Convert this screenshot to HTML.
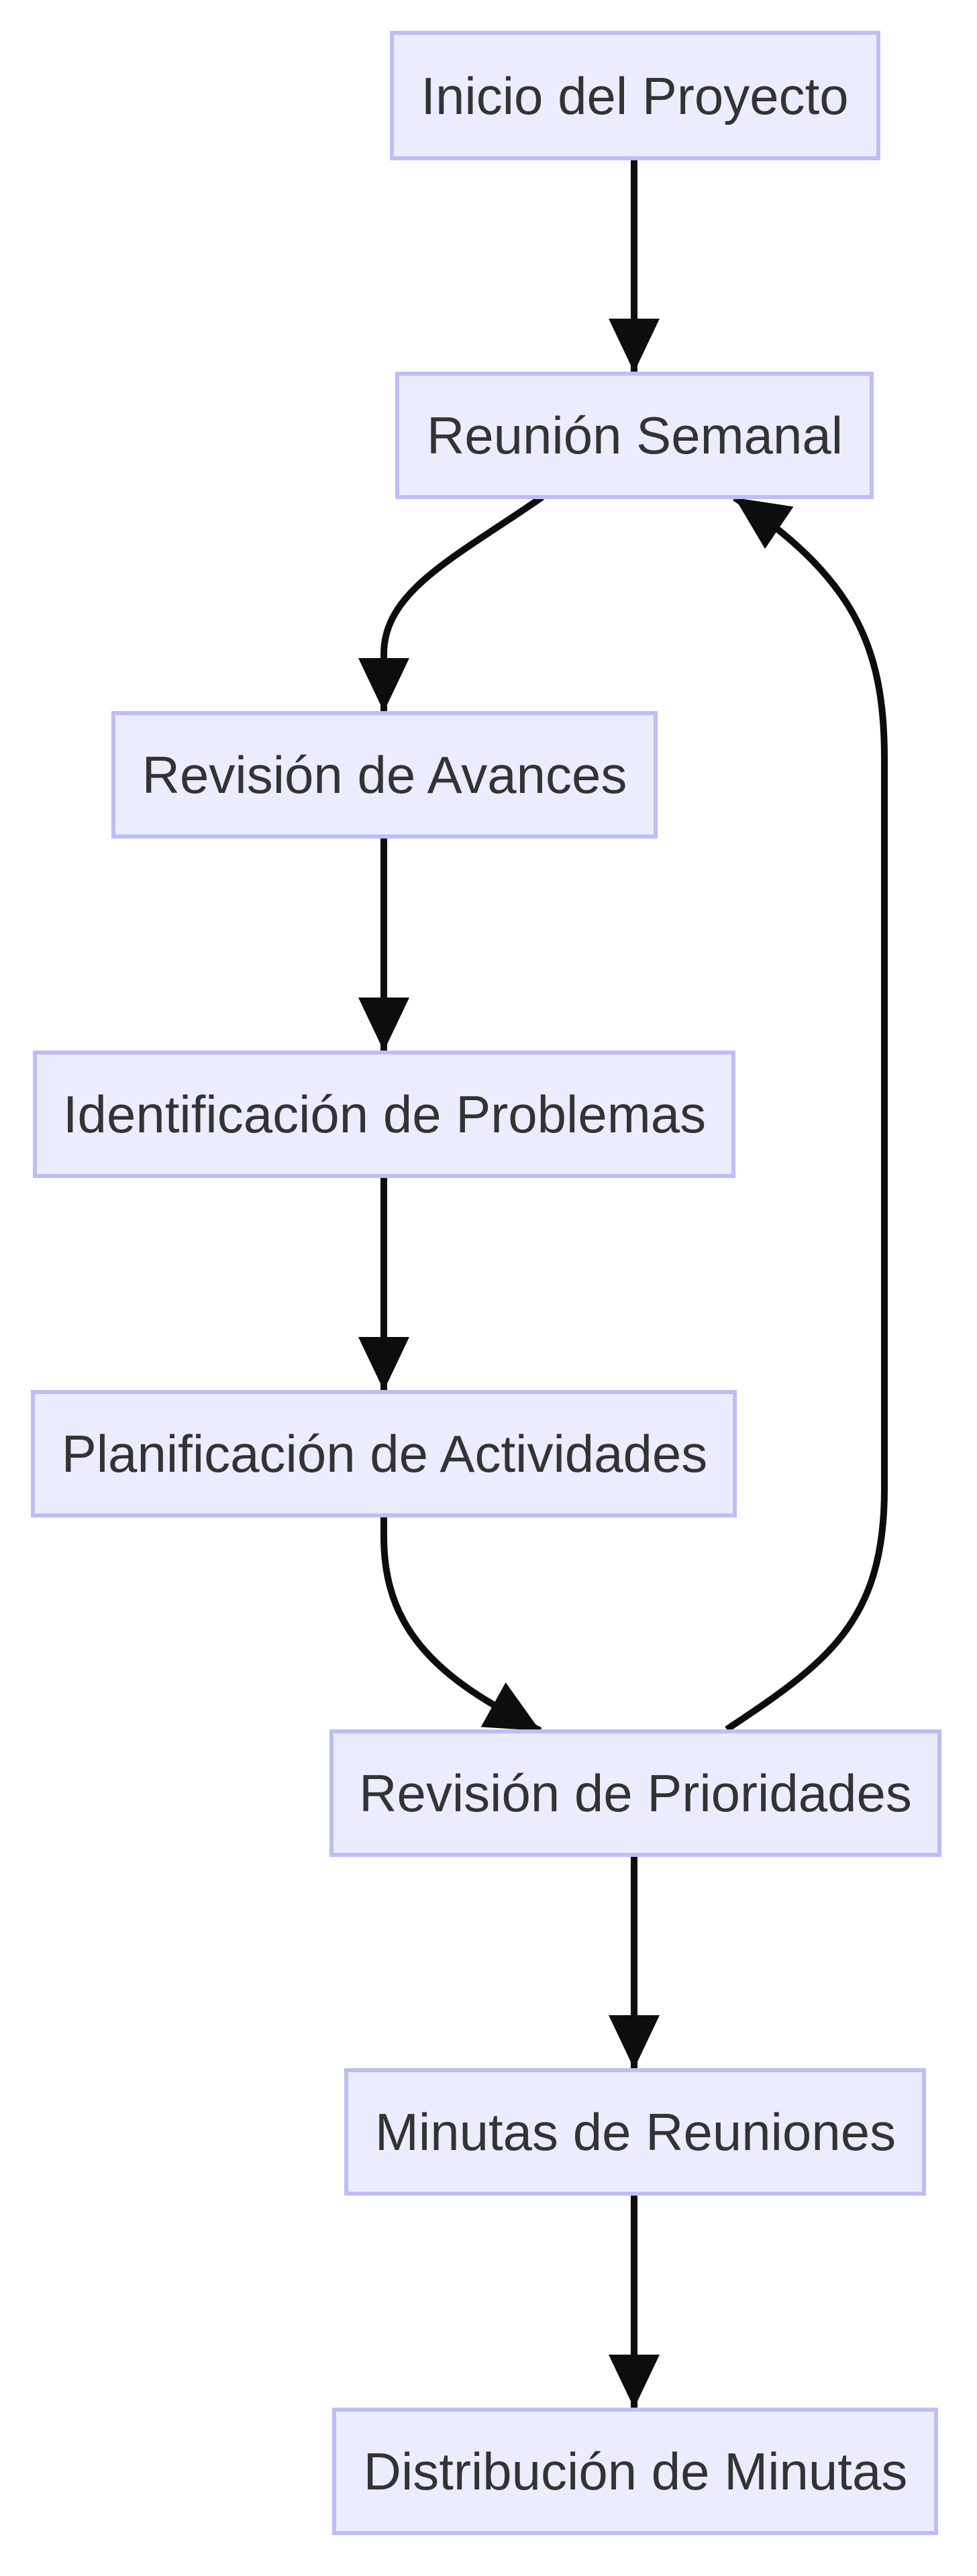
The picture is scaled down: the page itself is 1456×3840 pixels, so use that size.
<!DOCTYPE html>
<html><head><meta charset="utf-8"><style>
html,body{margin:0;padding:0;background:#fff;}
svg{display:block;}
text{font-family:"Liberation Sans",Arial,sans-serif;font-size:78px;fill:#333;text-anchor:middle;dominant-baseline:central;}
rect{fill:#ECECFF;stroke:#BDBDF7;stroke-width:6;}
path.e{fill:none;stroke:#0d0d0d;stroke-width:10;}
</style></head><body>
<svg width="1456" height="3840" viewBox="0 0 1456 3840" xmlns="http://www.w3.org/2000/svg">
<defs>
<marker id="a" markerUnits="userSpaceOnUse" markerWidth="90" markerHeight="80" refX="80" refY="38" orient="auto">
<path d="M0,0 L80,38 L0,76 Z" fill="#0d0d0d"/>
</marker>
</defs>
<path class="e" d="M945,236 L945,555" marker-end="url(#a)"/>
<path class="e" d="M808,741 C680,830 572,880 572,975 L572,1061" marker-end="url(#a)"/>
<path class="e" d="M572,1247 L572,1567" marker-end="url(#a)"/>
<path class="e" d="M572,1753 L572,2073" marker-end="url(#a)"/>
<path class="e" d="M572,2259 L572,2290 C572,2400 620,2480 760,2555 L805,2580" marker-end="url(#a)"/>
<path class="e" d="M1083,2578 C1230,2480 1318,2420 1318,2220 L1318,1130 C1318,960 1270,860 1095,742" marker-end="url(#a)"/>
<path class="e" d="M945,2765 L945,3084" marker-end="url(#a)"/>
<path class="e" d="M945,3270 L945,3590" marker-end="url(#a)"/>
<rect x="584" y="49" width="725" height="187"/><text x="946" y="143">Inicio del Proyecto</text>
<rect x="592" y="557" width="707" height="184"/><text x="946" y="649">Reunión Semanal</text>
<rect x="169" y="1063" width="808" height="184"/><text x="573" y="1155">Revisión de Avances</text>
<rect x="52" y="1569" width="1041" height="184"/><text x="573" y="1661">Identificación de Problemas</text>
<rect x="49" y="2075" width="1046" height="184"/><text x="573" y="2167">Planificación de Actividades</text>
<rect x="494" y="2581" width="906" height="184"/><text x="947" y="2673">Revisión de Prioridades</text>
<rect x="516" y="3086" width="861" height="184"/><text x="947" y="3178">Minutas de Reuniones</text>
<rect x="498" y="3592" width="897" height="184"/><text x="947" y="3684">Distribución de Minutas</text>
</svg>
</body></html>
